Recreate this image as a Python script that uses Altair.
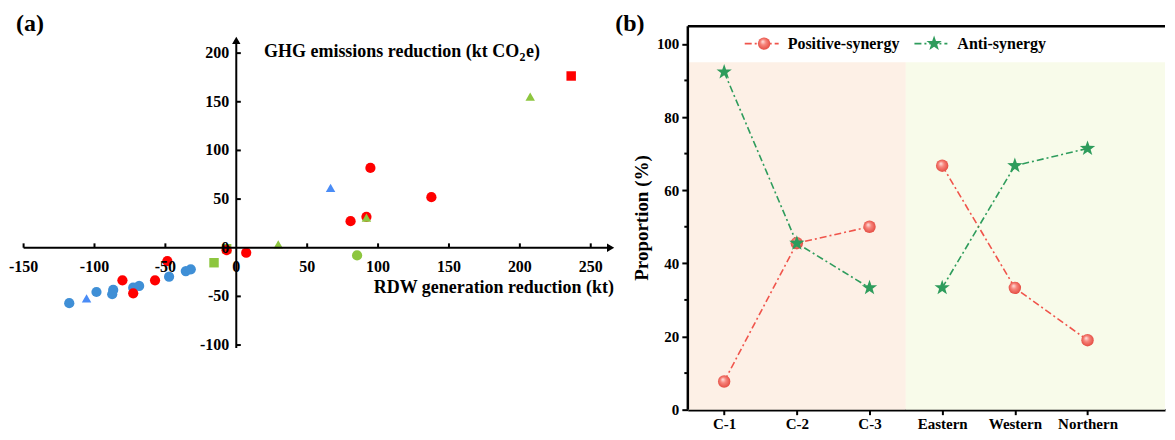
import altair as alt
import pandas as pd

FONT = "Liberation Serif"

# ---------------- Panel (a) data ----------------
red_circle_x = [-80.3, -72.7, -57.3, -48.6, -6.8, 7.0, 80.6, 91.8, 94.6, 137.6]
red_circle_y = [-33.5, -46.8, -33.5, -13.7, -2.5, -5.1, 27.3, 31.8, 82.0, 52.0]
red_square_x = [236.2]
red_square_y = [176.5]
blue_circle_x = [-117.8, -98.6, -86.8, -87.5, -72.7, -68.5, -47.4, -35.6, -32.1]
blue_circle_y = [-57.0, -45.5, -43.4, -47.8, -41.0, -39.3, -29.7, -24.0, -22.2]
blue_triangle_x = [-105.6, 66.5]
blue_triangle_y = [-52.0, 61.5]
green_square_x = [-15.7, -6.8]
green_square_y = [-15.4, -1.0]
green_triangle_x = [29.6, 91.8, 207.3]
green_triangle_y = [3.4, 31.0, 155.3]
green_circle_x = [85.2]
green_circle_y = [-7.9]

a_xticks = [-150, -100, -50, 50, 100, 150, 200, 250]
a_xlabels = [-150, -100, -50, 0, 50, 100, 150, 200, 250]
a_yticks = [-100, -50, 50, 100, 150, 200]
a_ylabels = [-100, -50, 0, 50, 100, 150, 200]
a_xaxis = [-150, 264]
a_yaxis = [-103, 213]

# ---------------- Panel (b) data ----------------
categories = ["C-1", "C-2", "C-3", "Eastern", "Western", "Northern"]
positive = [7.7, 45.5, 50.0, 66.7, 33.3, 19.0]
anti = [92.3, 45.5, 33.3, 33.3, 66.7, 71.4]
group = ["cluster", "cluster", "cluster", "region", "region", "region"]
b_yticks = [0, 20, 40, 60, 80, 100]
b_minor = [10, 30, 50, 70, 90]
shade_top = 95
frame_top = 104.8

STAR = ("M0,-1 L0.235,-0.324 L0.951,-0.309 L0.38,0.124 L0.588,0.809 L0,0.4 "
        "L-0.588,0.809 L-0.38,0.124 L-0.951,-0.309 L-0.235,-0.324 Z")

# ================= Panel (a) =================
AW, AH = 615, 347
ax_scale = alt.Scale(domain=[-161, 272], nice=False, zero=False)
ay_scale = alt.Scale(domain=[-110, 246], nice=False, zero=False)


def XA(f):
    return alt.X(f, type="quantitative", scale=ax_scale, axis=None)


def YA(f):
    return alt.Y(f, type="quantitative", scale=ay_scale, axis=None)


def pts(xs, ys, shape, color, size):
    return alt.Chart(pd.DataFrame({"x": xs, "y": ys})).mark_point(
        shape=shape, filled=True, color=color, size=size, opacity=1
    ).encode(x=XA("x"), y=YA("y"))


BLUE_C = "#3F8FD6"
BLUE_T = "#4A8CF6"
GREEN = "#8DC63F"
RED = "#FF0000"

a_layers = [
    pts(blue_circle_x, blue_circle_y, "circle", BLUE_C, 105),
    pts(blue_triangle_x, blue_triangle_y, "triangle-up", BLUE_T, 90),
    pts(green_square_x, green_square_y, "square", GREEN, 90),
    pts(red_circle_x, red_circle_y, "circle", RED, 105),
    pts(red_square_x, red_square_y, "square", RED, 90),
    pts(green_triangle_x, green_triangle_y, "triangle-up", GREEN, 90),
    pts(green_circle_x, green_circle_y, "circle", GREEN, 105),
]

a_layers.append(
    alt.Chart(pd.DataFrame({"x": [a_xaxis[0]], "x2": [a_xaxis[1]], "y": [0]}))
    .mark_rule(color="black", strokeWidth=2)
    .encode(x=XA("x"), x2="x2:Q", y=YA("y"))
)
a_layers.append(
    alt.Chart(pd.DataFrame({"y": [a_yaxis[0]], "y2": [a_yaxis[1]], "x": [0]}))
    .mark_rule(color="black", strokeWidth=2)
    .encode(y=YA("y"), y2="y2:Q", x=XA("x"))
)
a_layers.append(
    alt.Chart(pd.DataFrame({"x": [a_xaxis[1]], "y": [0]}))
    .mark_point(shape="triangle-right", filled=True, color="black", size=70, opacity=1)
    .encode(x=XA("x"), y=YA("y"))
)
a_layers.append(
    alt.Chart(pd.DataFrame({"x": [0], "y": [a_yaxis[1]]}))
    .mark_point(shape="triangle-up", filled=True, color="black", size=70, opacity=1)
    .encode(x=XA("x"), y=YA("y"))
)
a_layers.append(
    alt.Chart(pd.DataFrame({"x": a_xticks, "y": [0] * len(a_xticks), "y2": [4.5] * len(a_xticks)}))
    .mark_rule(color="black", strokeWidth=2)
    .encode(x=XA("x"), y=YA("y"), y2="y2:Q")
)
a_layers.append(
    alt.Chart(pd.DataFrame({"y": a_yticks, "x": [0] * len(a_yticks), "x2": [3.2] * len(a_yticks)}))
    .mark_rule(color="black", strokeWidth=2)
    .encode(y=YA("y"), x=XA("x"), x2="x2:Q")
)
a_layers.append(
    alt.Chart(pd.DataFrame({"x": a_xlabels, "y": [0] * len(a_xlabels), "t": [str(v) for v in a_xlabels]}))
    .mark_text(font=FONT, fontSize=16, fontWeight="bold", color="black", dy=19, baseline="middle", align="center")
    .encode(x=XA("x"), y=YA("y"), text="t:N")
)
a_layers.append(
    alt.Chart(pd.DataFrame({"y": a_ylabels, "x": [0] * len(a_ylabels), "t": [str(v) for v in a_ylabels]}))
    .mark_text(font=FONT, fontSize=16, fontWeight="bold", color="black", dx=-7, baseline="middle", align="right")
    .encode(x=XA("x"), y=YA("y"), text="t:N")
)
title_style = dict(font=FONT, fontWeight="bold", color="black", baseline="middle")
a_layers.append(
    alt.Chart(pd.DataFrame({"t": ["GHG emissions reduction (kt CO"]}))
    .mark_text(fontSize=18, align="right", **title_style)
    .encode(x=alt.value(512), y=alt.value(44), text="t:N")
)
a_layers.append(
    alt.Chart(pd.DataFrame({"t": ["2"]}))
    .mark_text(fontSize=12, align="left", **title_style)
    .encode(x=alt.value(512.5), y=alt.value(49), text="t:N")
)
a_layers.append(
    alt.Chart(pd.DataFrame({"t": ["e)"]}))
    .mark_text(fontSize=18, align="left", **title_style)
    .encode(x=alt.value(519), y=alt.value(44), text="t:N")
)
a_layers.append(
    alt.Chart(pd.DataFrame({"t": ["RDW generation reduction (kt)"]}))
    .mark_text(fontSize=18, align="right", **title_style)
    .encode(x=alt.value(607), y=alt.value(280), text="t:N")
)
a_layers.append(
    alt.Chart(pd.DataFrame({"t": ["(a)"]}))
    .mark_text(fontSize=24, align="center", **title_style)
    .encode(x=alt.value(22), y=alt.value(16), text="t:N")
)

panel_a = alt.layer(*a_layers).properties(width=AW, height=AH)

# ================= Panel (b) =================
BW, BH = 478, 402
XMAX = 7.066
bx_scale = alt.Scale(domain=[0.5, XMAX], nice=False, zero=False)
by_scale = alt.Scale(domain=[0, 109.7], nice=False, zero=False)
label_expr = "[" + ",".join("'%s'" % c for c in categories) + "][datum.value - 1]"
bx_axis = alt.Axis(
    values=list(range(1, len(categories) + 1)), labelExpr=label_expr, title=None, grid=False,
    domainColor="black", domainWidth=2.5, tickColor="black", tickWidth=2, tickSize=5,
    labelFont=FONT, labelFontSize=15, labelFontWeight="bold", labelColor="black", labelPadding=2,
)
by_axis = alt.Axis(
    values=b_yticks, title=None, grid=False, domain=False,
    tickColor="black", tickWidth=2, tickSize=6,
    labelFont=FONT, labelFontSize=15, labelFontWeight="bold", labelColor="black", labelPadding=3,
)


def XB(f):
    return alt.X(f, type="quantitative", scale=bx_scale, axis=bx_axis)


def YB(f):
    return alt.Y(f, type="quantitative", scale=by_scale, axis=by_axis)


n = len(categories)
dfb = pd.DataFrame({
    "idx": list(range(1, n + 1)),
    "cat": categories,
    "pos": positive,
    "anti": anti,
    "grp": group,
})
n_cluster = group.count("cluster")
shade = pd.DataFrame({
    "x0": [0.5, n_cluster + 0.5],
    "x1": [n_cluster + 0.5, XMAX],
    "y0": [0, 0],
    "y1": [shade_top, shade_top],
    "c": ["#FDF0E6", "#F8FBEA"],
})

RED_L = "#F0544B"
GREEN_L = "#2E9C5C"
sphere = alt.RadialGradient(
    gradient="radial",
    stops=[
        alt.GradientStop(color="#FFE9E6", offset=0),
        alt.GradientStop(color="#F7867D", offset=0.4),
        alt.GradientStop(color="#E2463C", offset=1),
    ],
    x1=0.38, y1=0.32, r1=0, x2=0.5, y2=0.5, r2=0.55,
)

b_layers = [
    alt.Chart(shade).mark_rect(opacity=1).encode(
        x=XB("x0"), x2="x1:Q", y=YB("y0"), y2="y1:Q", color=alt.Color("c:N", scale=None)
    ),
    alt.Chart(dfb).mark_line(color=RED_L, strokeWidth=1.6, strokeDash=[7, 3, 2, 3]).encode(
        x=XB("idx"), y=YB("pos"), detail="grp:N"
    ),
    alt.Chart(dfb).mark_line(color=GREEN_L, strokeWidth=1.6, strokeDash=[7, 3, 2, 3]).encode(
        x=XB("idx"), y=YB("anti"), detail="grp:N"
    ),
    alt.Chart(dfb).mark_point(shape="circle", filled=True, fill=sphere, size=155, opacity=1).encode(
        x=XB("idx"), y=YB("pos")
    ),
    alt.Chart(dfb).mark_point(shape=STAR, filled=True, color=GREEN_L, size=260, opacity=1).encode(
        x=XB("idx"), y=YB("anti")
    ),
]
frame = pd.DataFrame({"x0": [0.5], "x1": [XMAX], "top": [frame_top], "bot": [0]})
b_layers.append(
    alt.Chart(frame).mark_rule(color="black", strokeWidth=2.5).encode(x=XB("x0"), x2="x1:Q", y=YB("top"))
)
b_layers.append(
    alt.Chart(frame).mark_rule(color="black", strokeWidth=2.5).encode(x=XB("x0"), y=YB("bot"), y2="top:Q")
)
b_layers.append(
    alt.Chart(pd.DataFrame({"m": b_minor})).mark_rule(color="black", strokeWidth=2).encode(
        y=YB("m"), x=alt.value(0), x2=alt.value(-3.5)
    )
)
b_layers += [
    alt.Chart(pd.DataFrame({"k": [0]})).mark_rule(color=RED_L, strokeWidth=1.6, strokeDash=[7, 3, 2, 3]).encode(
        x=alt.value(57), x2=alt.value(91), y=alt.value(35.3)),
    alt.Chart(pd.DataFrame({"k": [0]})).mark_point(shape="circle", filled=True, fill=sphere, size=155,
                                                   opacity=1).encode(
        x=alt.value(76.4), y=alt.value(35.3)),
    alt.Chart(pd.DataFrame({"t": ["Positive-synergy"]})).mark_text(
        fontSize=16, align="left", **title_style).encode(x=alt.value(100), y=alt.value(35.3), text="t:N"),
    alt.Chart(pd.DataFrame({"k": [0]})).mark_rule(color=GREEN_L, strokeWidth=1.6, strokeDash=[7, 3, 2, 3]).encode(
        x=alt.value(227), x2=alt.value(260), y=alt.value(35.3)),
    alt.Chart(pd.DataFrame({"k": [0]})).mark_point(shape=STAR, filled=True, color=GREEN_L, size=260,
                                                   opacity=1).encode(
        x=alt.value(246.7), y=alt.value(35.3)),
    alt.Chart(pd.DataFrame({"t": ["Anti-synergy"]})).mark_text(
        fontSize=16, align="left", **title_style).encode(x=alt.value(270), y=alt.value(35.3), text="t:N"),
    alt.Chart(pd.DataFrame({"t": ["Proportion (%)"]})).mark_text(
        fontSize=19, align="center", angle=270, **title_style).encode(x=alt.value(-46), y=alt.value(210), text="t:N"),
    alt.Chart(pd.DataFrame({"t": ["(b)"]})).mark_text(
        fontSize=24, align="center", **title_style).encode(x=alt.value(-58), y=alt.value(16), text="t:N"),
]

panel_b = alt.layer(*b_layers).properties(width=BW, height=BH)

chart = (
    alt.hconcat(panel_a, panel_b, spacing=66, bounds="flush")
    .properties(padding=0, background="white")
    .configure_view(stroke="transparent", strokeWidth=0)
)

chart.save("out.html", embed_options={"renderer": "svg", "actions": False})
